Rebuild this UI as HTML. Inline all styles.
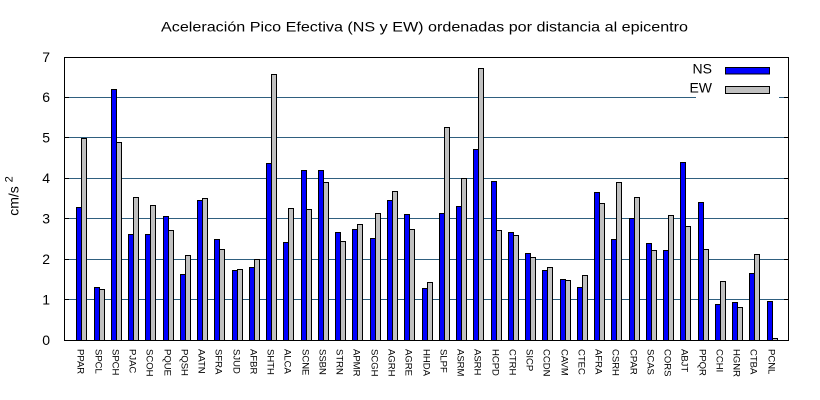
<!DOCTYPE html>
<html><head><meta charset="utf-8"><style>
html,body{margin:0;padding:0;background:#fff;}
svg{display:block;font-family:"Liberation Sans",Arial,sans-serif;}
</style></head><body>
<svg width="820" height="400" viewBox="0 0 820 400" xmlns="http://www.w3.org/2000/svg">
<rect width="820" height="400" fill="#fff"/>
<text x="161" y="31.5" font-size="14" fill="#000" textLength="527" lengthAdjust="spacingAndGlyphs">Aceleración Pico Efectiva (NS y EW) ordenadas por distancia al epicentro</text>
<g stroke="#2f5f7f" stroke-width="1">
<line x1="64" y1="299.5" x2="789" y2="299.5"/>
<line x1="64" y1="259.5" x2="789" y2="259.5"/>
<line x1="64" y1="218.5" x2="789" y2="218.5"/>
<line x1="64" y1="178.5" x2="789" y2="178.5"/>
<line x1="64" y1="137.5" x2="789" y2="137.5"/>
<line x1="64" y1="97.5" x2="696" y2="97.5"/>
<line x1="779" y1="97.5" x2="789" y2="97.5"/>
</g>
<g stroke="#000" stroke-width="1">
<line x1="64" y1="299.5" x2="69" y2="299.5"/><line x1="784" y1="299.5" x2="789" y2="299.5"/>
<line x1="64" y1="259.5" x2="69" y2="259.5"/><line x1="784" y1="259.5" x2="789" y2="259.5"/>
<line x1="64" y1="218.5" x2="69" y2="218.5"/><line x1="784" y1="218.5" x2="789" y2="218.5"/>
<line x1="64" y1="178.5" x2="69" y2="178.5"/><line x1="784" y1="178.5" x2="789" y2="178.5"/>
<line x1="64" y1="137.5" x2="69" y2="137.5"/><line x1="784" y1="137.5" x2="789" y2="137.5"/>
<line x1="64" y1="97.5" x2="69" y2="97.5"/><line x1="784" y1="97.5" x2="789" y2="97.5"/>
</g>
<g stroke="#000" stroke-width="1">
<rect x="76.5" y="207.5" width="5" height="133" fill="#0000ff"/><rect x="81.5" y="138.5" width="5" height="202" fill="#c0c0c0"/>
<rect x="94.5" y="287.5" width="5" height="53" fill="#0000ff"/><rect x="99.5" y="289.5" width="5" height="51" fill="#c0c0c0"/>
<rect x="111.5" y="89.5" width="5" height="251" fill="#0000ff"/><rect x="116.5" y="142.5" width="5" height="198" fill="#c0c0c0"/>
<rect x="128.5" y="234.5" width="5" height="106" fill="#0000ff"/><rect x="133.5" y="197.5" width="5" height="143" fill="#c0c0c0"/>
<rect x="145.5" y="234.5" width="5" height="106" fill="#0000ff"/><rect x="150.5" y="205.5" width="5" height="135" fill="#c0c0c0"/>
<rect x="163.5" y="216.5" width="5" height="124" fill="#0000ff"/><rect x="168.5" y="230.5" width="5" height="110" fill="#c0c0c0"/>
<rect x="180.5" y="274.5" width="5" height="66" fill="#0000ff"/><rect x="185.5" y="255.5" width="5" height="85" fill="#c0c0c0"/>
<rect x="197.5" y="200.5" width="5" height="140" fill="#0000ff"/><rect x="202.5" y="198.5" width="5" height="142" fill="#c0c0c0"/>
<rect x="214.5" y="239.5" width="5" height="101" fill="#0000ff"/><rect x="219.5" y="249.5" width="5" height="91" fill="#c0c0c0"/>
<rect x="232.5" y="270.5" width="5" height="70" fill="#0000ff"/><rect x="237.5" y="269.5" width="5" height="71" fill="#c0c0c0"/>
<rect x="249.5" y="267.5" width="5" height="73" fill="#0000ff"/><rect x="254.5" y="259.5" width="5" height="81" fill="#c0c0c0"/>
<rect x="266.5" y="163.5" width="5" height="177" fill="#0000ff"/><rect x="271.5" y="74.5" width="5" height="266" fill="#c0c0c0"/>
<rect x="283.5" y="242.5" width="5" height="98" fill="#0000ff"/><rect x="288.5" y="208.5" width="5" height="132" fill="#c0c0c0"/>
<rect x="301.5" y="170.5" width="5" height="170" fill="#0000ff"/><rect x="306.5" y="209.5" width="5" height="131" fill="#c0c0c0"/>
<rect x="318.5" y="170.5" width="5" height="170" fill="#0000ff"/><rect x="323.5" y="182.5" width="5" height="158" fill="#c0c0c0"/>
<rect x="335.5" y="232.5" width="5" height="108" fill="#0000ff"/><rect x="340.5" y="241.5" width="5" height="99" fill="#c0c0c0"/>
<rect x="352.5" y="229.5" width="5" height="111" fill="#0000ff"/><rect x="357.5" y="224.5" width="5" height="116" fill="#c0c0c0"/>
<rect x="370.5" y="238.5" width="5" height="102" fill="#0000ff"/><rect x="375.5" y="213.5" width="5" height="127" fill="#c0c0c0"/>
<rect x="387.5" y="200.5" width="5" height="140" fill="#0000ff"/><rect x="392.5" y="191.5" width="5" height="149" fill="#c0c0c0"/>
<rect x="404.5" y="214.5" width="5" height="126" fill="#0000ff"/><rect x="409.5" y="229.5" width="5" height="111" fill="#c0c0c0"/>
<rect x="422.5" y="288.5" width="5" height="52" fill="#0000ff"/><rect x="427.5" y="282.5" width="5" height="58" fill="#c0c0c0"/>
<rect x="439.5" y="213.5" width="5" height="127" fill="#0000ff"/><rect x="444.5" y="127.5" width="5" height="213" fill="#c0c0c0"/>
<rect x="456.5" y="206.5" width="5" height="134" fill="#0000ff"/><rect x="461.5" y="178.5" width="5" height="162" fill="#c0c0c0"/>
<rect x="473.5" y="149.5" width="5" height="191" fill="#0000ff"/><rect x="478.5" y="68.5" width="5" height="272" fill="#c0c0c0"/>
<rect x="491.5" y="181.5" width="5" height="159" fill="#0000ff"/><rect x="496.5" y="230.5" width="5" height="110" fill="#c0c0c0"/>
<rect x="508.5" y="232.5" width="5" height="108" fill="#0000ff"/><rect x="513.5" y="235.5" width="5" height="105" fill="#c0c0c0"/>
<rect x="525.5" y="253.5" width="5" height="87" fill="#0000ff"/><rect x="530.5" y="257.5" width="5" height="83" fill="#c0c0c0"/>
<rect x="542.5" y="270.5" width="5" height="70" fill="#0000ff"/><rect x="547.5" y="267.5" width="5" height="73" fill="#c0c0c0"/>
<rect x="560.5" y="279.5" width="5" height="61" fill="#0000ff"/><rect x="565.5" y="280.5" width="5" height="60" fill="#c0c0c0"/>
<rect x="577.5" y="287.5" width="5" height="53" fill="#0000ff"/><rect x="582.5" y="275.5" width="5" height="65" fill="#c0c0c0"/>
<rect x="594.5" y="192.5" width="5" height="148" fill="#0000ff"/><rect x="599.5" y="203.5" width="5" height="137" fill="#c0c0c0"/>
<rect x="611.5" y="239.5" width="5" height="101" fill="#0000ff"/><rect x="616.5" y="182.5" width="5" height="158" fill="#c0c0c0"/>
<rect x="629.5" y="218.5" width="5" height="122" fill="#0000ff"/><rect x="634.5" y="197.5" width="5" height="143" fill="#c0c0c0"/>
<rect x="646.5" y="243.5" width="5" height="97" fill="#0000ff"/><rect x="651.5" y="250.5" width="5" height="90" fill="#c0c0c0"/>
<rect x="663.5" y="250.5" width="5" height="90" fill="#0000ff"/><rect x="668.5" y="215.5" width="5" height="125" fill="#c0c0c0"/>
<rect x="680.5" y="162.5" width="5" height="178" fill="#0000ff"/><rect x="685.5" y="226.5" width="5" height="114" fill="#c0c0c0"/>
<rect x="698.5" y="202.5" width="5" height="138" fill="#0000ff"/><rect x="703.5" y="249.5" width="5" height="91" fill="#c0c0c0"/>
<rect x="715.5" y="304.5" width="5" height="36" fill="#0000ff"/><rect x="720.5" y="281.5" width="5" height="59" fill="#c0c0c0"/>
<rect x="732.5" y="302.5" width="5" height="38" fill="#0000ff"/><rect x="737.5" y="307.5" width="5" height="33" fill="#c0c0c0"/>
<rect x="749.5" y="273.5" width="5" height="67" fill="#0000ff"/><rect x="754.5" y="254.5" width="5" height="86" fill="#c0c0c0"/>
<rect x="767.5" y="301.5" width="5" height="39" fill="#0000ff"/><rect x="772.5" y="338.5" width="5" height="2" fill="#c0c0c0"/>
</g>
<rect x="64.5" y="57.5" width="724" height="283" fill="none" stroke="#000" stroke-width="1"/>
<g font-size="14" fill="#000" text-anchor="end">
<text x="50" y="345">0</text>
<text x="50" y="304.5">1</text>
<text x="50" y="264">2</text>
<text x="50" y="223.5">3</text>
<text x="50" y="183">4</text>
<text x="50" y="142.5">5</text>
<text x="50" y="102">6</text>
<text x="50" y="62">7</text>
</g>
<text transform="translate(18.5,196) rotate(-90)" font-size="14" text-anchor="middle" fill="#000">cm/s <tspan font-size="11" dy="-6">2</tspan></text>
<g font-size="14" fill="#000" text-anchor="end">
<text x="712" y="73.5">NS</text>
<text x="712" y="92.5">EW</text>
</g>
<rect x="725.5" y="67.5" width="44" height="6.5" fill="#0000ff" stroke="#000" stroke-width="1"/>
<rect x="725.5" y="86.5" width="44" height="7" fill="#c0c0c0" stroke="#000" stroke-width="1"/>
<g font-size="9.5" fill="#000">
<text transform="translate(77.6,349) rotate(90)">PPAR</text>
<text transform="translate(95.6,349) rotate(90)">SPCL</text>
<text transform="translate(112.6,349) rotate(90)">SPCH</text>
<text transform="translate(129.6,349) rotate(90)">PJAC</text>
<text transform="translate(146.6,349) rotate(90)">SCOH</text>
<text transform="translate(164.6,349) rotate(90)">PQUE</text>
<text transform="translate(181.6,349) rotate(90)">PQSH</text>
<text transform="translate(198.6,349) rotate(90)">AATN</text>
<text transform="translate(215.6,349) rotate(90)">SFRA</text>
<text transform="translate(233.6,349) rotate(90)">SJUD</text>
<text transform="translate(250.6,349) rotate(90)">AFBR</text>
<text transform="translate(267.6,349) rotate(90)">SHTH</text>
<text transform="translate(284.6,349) rotate(90)">ALCA</text>
<text transform="translate(302.6,349) rotate(90)">SCNE</text>
<text transform="translate(319.6,349) rotate(90)">SSBN</text>
<text transform="translate(336.6,349) rotate(90)">STRN</text>
<text transform="translate(353.6,349) rotate(90)">APMR</text>
<text transform="translate(371.6,349) rotate(90)">SCGH</text>
<text transform="translate(388.6,349) rotate(90)">AGRH</text>
<text transform="translate(405.6,349) rotate(90)">AGRE</text>
<text transform="translate(423.6,349) rotate(90)">HHDA</text>
<text transform="translate(440.6,349) rotate(90)">SLPF</text>
<text transform="translate(457.6,349) rotate(90)">ASRM</text>
<text transform="translate(474.6,349) rotate(90)">ASRH</text>
<text transform="translate(492.6,349) rotate(90)">HCPD</text>
<text transform="translate(509.6,349) rotate(90)">CTRH</text>
<text transform="translate(526.6,349) rotate(90)">SICP</text>
<text transform="translate(543.6,349) rotate(90)">CCDN</text>
<text transform="translate(561.6,349) rotate(90)">CAVM</text>
<text transform="translate(578.6,349) rotate(90)">CTEC</text>
<text transform="translate(595.6,349) rotate(90)">AFRA</text>
<text transform="translate(612.6,349) rotate(90)">CSRH</text>
<text transform="translate(630.6,349) rotate(90)">CPAR</text>
<text transform="translate(647.6,349) rotate(90)">SCAS</text>
<text transform="translate(664.6,349) rotate(90)">CORS</text>
<text transform="translate(681.6,349) rotate(90)">ABJT</text>
<text transform="translate(699.6,349) rotate(90)">PPQR</text>
<text transform="translate(716.6,349) rotate(90)">CCHI</text>
<text transform="translate(733.6,349) rotate(90)">HGNR</text>
<text transform="translate(750.6,349) rotate(90)">CTBA</text>
<text transform="translate(768.6,349) rotate(90)">PCNL</text>
</g>
</svg>
</body></html>
